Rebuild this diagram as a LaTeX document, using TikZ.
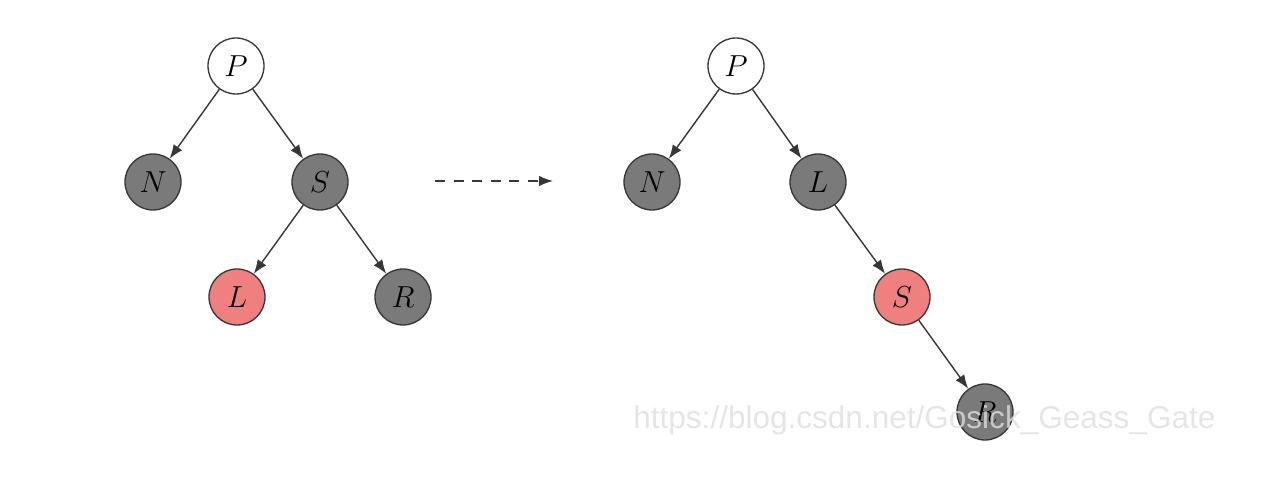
\documentclass[tikz,border=0pt]{standalone}
\usepackage{fontspec}
\newfontfamily\wmfont{Liberation Sans}
\usepackage{graphicx}
\usetikzlibrary{arrows.meta}
\definecolor{nodegray}{RGB}{122,122,122}
\definecolor{nodered}{RGB}{240,128,128}
\definecolor{edgecol}{RGB}{55,55,55}
\tikzset{
  rbnode/.style={circle, draw=edgecol, line width=0.75pt, minimum size=1.12cm, inner sep=0pt, font=\fontsize{17}{20}\selectfont},
  blacknode/.style={rbnode, fill=nodegray},
  rednode/.style={rbnode, fill=nodered},
  whitenode/.style={rbnode, fill=white},
  edge/.style={draw=edgecol, line width=0.8pt, -{Latex[length=0.28cm,width=0.21cm]}},
}
\begin{document}
\begin{tikzpicture}
\useasboundingbox (0,0) rectangle (25.48,10.08);
% left tree
\node[whitenode] (P1) at (4.72,8.76) {$P$};
\node[blacknode] (N1) at (3.06,6.44) {$N$};
\node[blacknode] (S1) at (6.40,6.44) {$S$};
\node[rednode]   (L1) at (4.74,4.14) {$L$};
\node[blacknode] (R1) at (8.06,4.14) {$R$};
\draw[edge] (P1) -- (N1);
\draw[edge] (P1) -- (S1);
\draw[edge] (S1) -- (L1);
\draw[edge] (S1) -- (R1);
% transition arrow
\coordinate (A1) at (8.70,6.46);
\coordinate (A2) at (11.06,6.46);
\draw[edge, dashed, dash pattern=on 0.2cm off 0.17cm] (A1) -- (A2);
% right tree
\node[whitenode] (P2) at (14.72,8.76) {$P$};
\node[blacknode] (N2) at (13.04,6.44) {$N$};
\node[blacknode] (L2) at (16.36,6.44) {$L$};
\node[rednode]   (S2) at (18.04,4.14) {$S$};
\node[blacknode] (R2) at (19.70,1.84) {$R$};
\draw[edge] (P2) -- (N2);
\draw[edge] (P2) -- (L2);
\draw[edge] (L2) -- (S2);
\draw[edge] (S2) -- (R2);
% watermark
\node[anchor=west, inner sep=0pt, text=gray!25, opacity=0.8] (wm) at (12.66,1.68)
  {\resizebox{11.64cm}{!}{\wmfont https://blog.csdn.net/Gosick\_Geass\_Gate}};
\end{tikzpicture}
\end{document}
